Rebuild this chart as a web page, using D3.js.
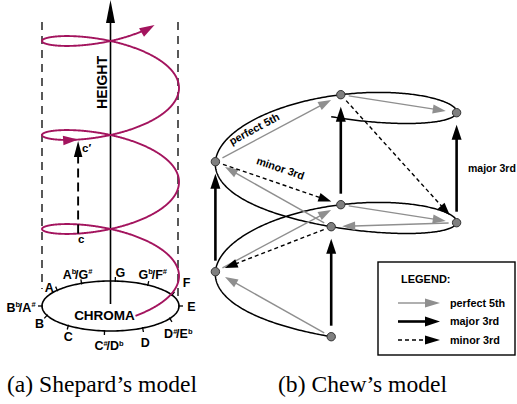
<!DOCTYPE html>
<html><head><meta charset="utf-8">
<script src="https://cdn.jsdelivr.net/npm/d3@7"></script>
<style>
body{margin:0;background:#fff}
svg{display:block}
text{font-family:"Liberation Sans",Arial,Helvetica,sans-serif;font-weight:bold;fill:#000}
text.cap{font-family:"Liberation Serif","Times New Roman",serif;font-weight:normal}
</style>
</head><body>
<svg id="c" width="517" height="404"></svg>
<script>
// ---------------- DATA ----------------
// Shepard: chroma circle (12 pitch classes) and their angular positions (degrees)
const chromaNotes  = ["E","F","Gb/F#","G","Ab/G#","A","Bb/A#","B","C","C#/Db","D","D#/Eb"];
const chromaAngles = [0, 26, 57, 86, 115, 141, 180, 202, 232, 265, 298, 330];
// helix parameter range (radians) and the pitch c and its octave c'
const helixRange   = [-1.197, 17.977];
const pitchC       = 4.22;               // helix angle of c
const octave       = 2 * Math.PI;        // c' = c + one turn
const helixArrowAt = [pitchC + octave];  // extra arrowhead on the helix
// Chew: spiral nodes (quarter-turn steps) and interval arrows
const chewNodes    = [0, 1, 2, 3, 4, 5, 6, 7];
const chewSpiral   = [0, 8];
const perfectFifths = [[0,1],[1,2],[2,3],[3,4],[4,5],[5,6],[6,7]];
const majorThirds   = [[0,4],[1,5],[2,6],[3,7]];
const minorThirds   = [[4,1],[5,2],[6,3]];
const legendItems   = ["perfect 5th","major 3rd","minor 3rd"];
const captions      = ["(a) Shepard\u2019s model","(b) Chew\u2019s model"];

// ---------------- LAYOUT ----------------
const svg = d3.select("#c");
const MAG = "#a3145e";
const GREY = "#8f8f8f";

function head(g, tip, ang, L, W, fill){
  const ux=Math.cos(ang), uy=Math.sin(ang), nx=-uy, ny=ux;
  const b=[tip[0]-ux*L, tip[1]-uy*L];
  g.append("path").attr("d", d3.line()([tip,[b[0]+nx*W/2,b[1]+ny*W/2],[b[0]-nx*W/2,b[1]-ny*W/2]])+"Z")
    .attr("fill", fill).attr("stroke","none");
}

// ===== Shepard =====
const S = {cx:110.5, cy:306, rx:68.5, ry:25};
const sx = d3.scaleLinear().domain([-1,1]).range([S.cx-S.rx, S.cx+S.rx]);
const sy = d3.scaleLinear().domain([-1,1]).range([S.cy+S.ry, S.cy-S.ry]);
const turnY = d3.scaleLinear().domain([0,1]).range([276, 182]); // height per turn
const helixE = 23.5;
function hp(t){ return [sx(Math.cos(t)), turnY(t/(2*Math.PI)) - helixE*Math.sin(t)]; }
function hdir(t){ const dx=-S.rx*Math.sin(t), dy=-(94/(2*Math.PI)) - helixE*Math.cos(t); return Math.atan2(dy,dx); }

const gS = svg.append("g");
// dashed cylinder edges
gS.append("line").attr("x1",sx(-1)).attr("x2",sx(-1)).attr("y1",22).attr("y2",289)
  .attr("stroke","#000").attr("stroke-width",1.3).attr("stroke-dasharray","8,6");
gS.append("line").attr("x1",sx(1)-1).attr("x2",sx(1)-1).attr("y1",22).attr("y2",300)
  .attr("stroke","#000").attr("stroke-width",1.3).attr("stroke-dasharray","8,6");
// height axis
gS.append("line").attr("x1",S.cx).attr("x2",S.cx).attr("y1",304).attr("y2",18)
  .attr("stroke","#000").attr("stroke-width",1.6);
head(gS,[S.cx,0],-Math.PI/2,23,9,"#000");
gS.append("text").attr("transform",`translate(107,82.5) rotate(-90)`).attr("text-anchor","middle")
  .attr("font-size",14).text("HEIGHT");
// chroma ellipse
const ell = d3.range(0,361,2).map(a=>[sx(Math.cos(a*Math.PI/180)), sy(Math.sin(a*Math.PI/180))]);
gS.append("path").attr("d",d3.line()(ell)).attr("fill","none").attr("stroke","#000").attr("stroke-width",1.6);
gS.append("text").attr("x",104.5).attr("y",320).attr("text-anchor","middle").attr("font-size",13.5).text("CHROMA");
// ticks and labels
const labelOff = [[12.5,0.5],[14.5,-12.5],[5,-11],[5,-9],[-4,-9],[-8,-3],[-21,1],[-7.5,8],[0,11],[4.5,15],[2.5,14],[8.5,15]];
chromaNotes.forEach((n,i)=>{
  const a=chromaAngles[i]*Math.PI/180;
  const p=[sx(Math.cos(a)), sy(Math.sin(a))];
  let nx=Math.cos(a)/S.rx, ny=-Math.sin(a)/S.ry; const l=Math.hypot(nx,ny); nx/=l; ny/=l;
  gS.append("line").attr("x1",p[0]-nx).attr("y1",p[1]-ny).attr("x2",p[0]+nx*4).attr("y2",p[1]+ny*4)
    .attr("stroke","#000").attr("stroke-width",1.3);
  const t=gS.append("text").attr("x",p[0]+labelOff[i][0]).attr("y",p[1]+labelOff[i][1]+4.5)
    .attr("text-anchor","middle").attr("font-size",12.5);
  // parse accidentals (superscript b / #)
  let pendingDown=false;
  for(const ch of n){
    if(ch==="b"||ch==="#"){
      t.append("tspan").attr("font-size",7.5).attr("dy",-4.5).text(ch);
      pendingDown=true;
    } else {
      const ts=t.append("tspan").text(ch);
      if(pendingDown){ ts.attr("dy",4.5); pendingDown=false; }
      if(ch==="/") ts.attr("dx",-1.2);
    }
  }
  if(pendingDown) t.append("tspan").attr("dy",4.5).text("");
});
// helix
const hpts = d3.range(helixRange[0], helixRange[1]-0.12, 0.01).map(hp);
gS.append("path").attr("d",d3.line()(hpts)).attr("fill","none").attr("stroke",MAG).attr("stroke-width",1.9);
head(gS, hp(helixRange[1]), hdir(helixRange[1]), 15, 10, MAG);
helixArrowAt.forEach(t=> head(gS, hp(t), hdir(t), 15, 9.5, MAG));
// c -> c'
const pc=hp(pitchC), pc2=hp(pitchC+octave);
gS.append("line").attr("x1",pc[0]).attr("x2",pc[0]).attr("y1",pc[1]).attr("y2",pc2[1]+16)
  .attr("stroke","#000").attr("stroke-width",1.9).attr("stroke-dasharray","9,5");
head(gS,[pc2[0],pc2[1]+1.5],-Math.PI/2,16,8.5,"#000");
gS.append("text").attr("x",pc[0]).attr("y",pc[1]+9.5).attr("font-size",11.5).text("c");
gS.append("text").attr("x",pc2[0]+4).attr("y",pc2[1]+12).attr("font-size",11.5).text("c\u2032");

// ===== Chew =====
const C = {cx:336, rx:120.6, sk:4.8, ry:38.5, tilt:3, sq:2};
const ky = d3.scaleLinear().domain([0,8]).range([300.2, 80.2]);
function cp(k){ const p=-Math.PI/2 - k*Math.PI/2;
  return [C.cx + C.rx*Math.cos(p) + C.sk*Math.sin(p),
          ky(k) - C.ry*Math.sin(p) + C.tilt*Math.cos(p) + C.sq*Math.cos(2*p)]; }
const gC = svg.append("g");
gC.append("path").attr("d", d3.line()(d3.range(chewSpiral[0], chewSpiral[1]+0.001, 0.01).map(cp)))
  .attr("fill","none").attr("stroke","#000").attr("stroke-width",1.5);

function arrow(g,p0,p1,o){
  const dx=p1[0]-p0[0], dy=p1[1]-p0[1], len=Math.hypot(dx,dy), ux=dx/len, uy=dy/len;
  const a=[p0[0]+ux*o.g0, p0[1]+uy*o.g0], tip=[p1[0]-ux*o.g1, p1[1]-uy*o.g1];
  const b=[tip[0]-ux*(o.L-1), tip[1]-uy*(o.L-1)];
  const ln=g.append("line").attr("x1",a[0]).attr("y1",a[1]).attr("x2",b[0]).attr("y2",b[1])
    .attr("stroke",o.color).attr("stroke-width",o.w);
  if(o.dash) ln.attr("stroke-dasharray",o.dash);
  head(g,tip,Math.atan2(dy,dx),o.L,o.W,o.color);
}
const styFifth = {color:GREY, w:1.4, L:13, W:9, g0:8, g1:11};
const styMajor = {color:"#000", w:2.6, L:15, W:10, g0:11, g1:12};
const styMinor = {color:"#000", w:1.4, L:13, W:9, g0:8, g1:10, dash:"4,3"};
perfectFifths.forEach(([a,b])=>arrow(gC,cp(a),cp(b),styFifth));
majorThirds.forEach(([a,b])=>arrow(gC,cp(a),cp(b),styMajor));
minorThirds.forEach(([a,b])=>arrow(gC,cp(a),cp(b),styMinor));
gC.selectAll("circle").data(chewNodes).join("circle")
  .attr("cx",k=>cp(k)[0]).attr("cy",k=>cp(k)[1]).attr("r",4.2)
  .attr("fill","#7f7f7f").attr("stroke","#333").attr("stroke-width",1);

// interval labels on the diagram
function alongLabel(g, p0, p1, frac, off, txt){
  const dx=p1[0]-p0[0], dy=p1[1]-p0[1], len=Math.hypot(dx,dy), ux=dx/len, uy=dy/len;
  const ang=Math.atan2(dy,dx);
  const c=[p0[0]+dx*frac + uy*off, p0[1]+dy*frac - ux*off];
  g.append("text").attr("transform",`translate(${c[0]},${c[1]}) rotate(${ang*180/Math.PI})`)
    .attr("text-anchor","middle").attr("dy","0.35em").attr("font-size",10.8).text(txt);
}
alongLabel(gC, cp(5), cp(6), 0.35, 10.6, "perfect 5th");
alongLabel(gC, cp(5), cp(2), 0.48, 15, "minor 3rd");
gC.append("text").attr("x",468).attr("y",172).attr("font-size",10.5).text("major 3rd");

// legend
const gL = svg.append("g");
gL.append("rect").attr("x",378).attr("y",262).attr("width",137).attr("height",93)
  .attr("fill","#fff").attr("stroke","#000").attr("stroke-width",1.4);
gL.append("text").attr("x",401).attr("y",283).attr("font-size",11).text("LEGEND:");
const legSty=[styFifth, styMajor, styMinor];
legendItems.forEach((t,i)=>{
  const y=303+i*18.5;
  arrow(gL,[398,y],[440,y],Object.assign({},legSty[i],{g0:0,g1:0,L:15}));
  gL.append("text").attr("x",450).attr("y",y+3.8).attr("font-size",10.8).text(t);
});

// captions
svg.selectAll("text.cap").data(captions).join("text").attr("class","cap")
  .attr("x",(d,i)=>[7,278][i]).attr("y",392).attr("font-size",23.6).text(d=>d);
</script>
</body></html>
